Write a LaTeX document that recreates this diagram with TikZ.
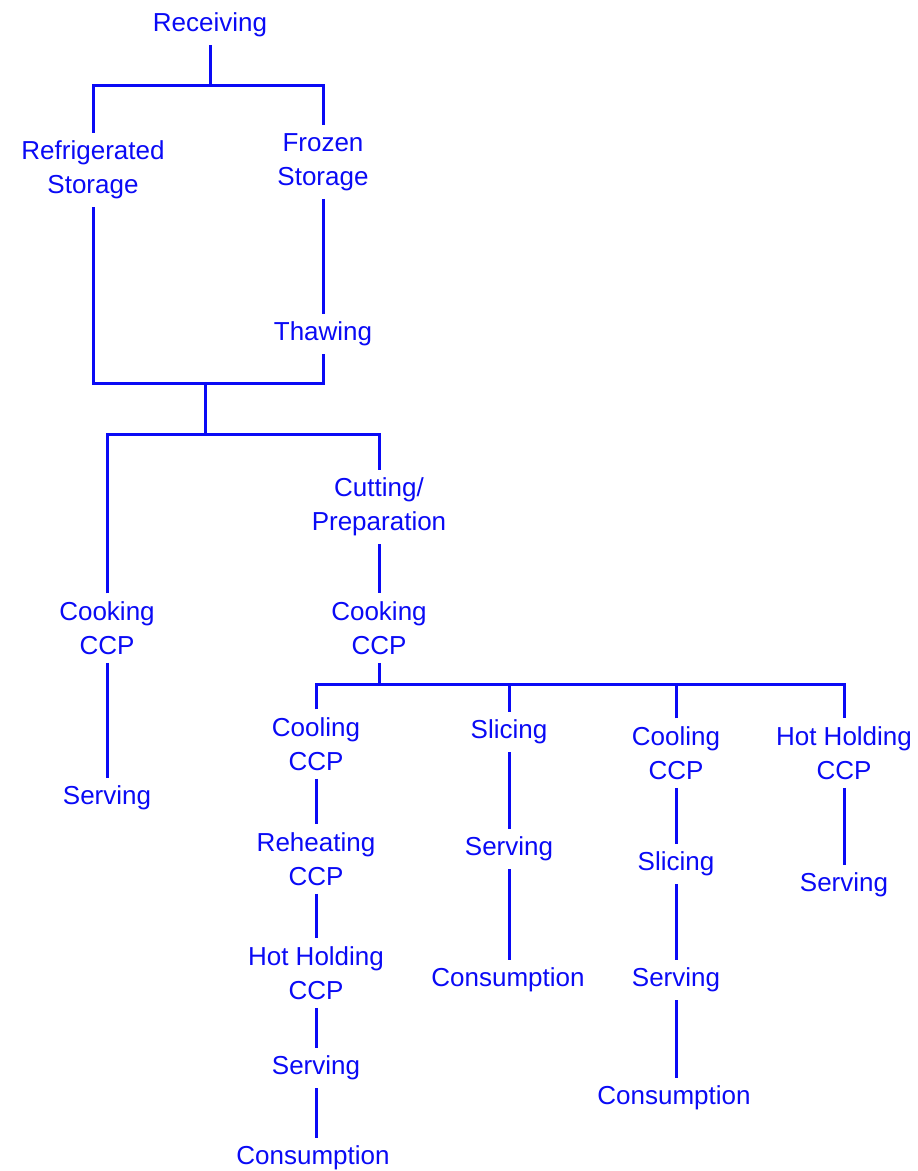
\documentclass[tikz,border=0pt]{standalone}
\usepackage{fontspec}
\setmainfont{Liberation Sans}
\definecolor{flowblue}{RGB}{10,10,245}
\begin{document}
\begin{tikzpicture}[x=1pt,y=-1pt,
  lbl/.style={text=flowblue,font=\fontsize{26}{34}\selectfont,align=center,inner xsep=0pt,inner ysep=8pt},
  conn/.style={draw=flowblue,line width=3pt}]
\path[use as bounding box] (0,0) rectangle (918,1171);
% nodes
\node[lbl] (rec) at (210,25) {Receiving};
\node[lbl] (refr) at (93,170) {Refrigerated\\Storage};
\node[lbl] (froz) at (323,162) {Frozen\\Storage};
\node[lbl] (thaw) at (323,334) {Thawing};
\node[lbl] (cut) at (379,507) {Cutting/\\Preparation};
\node[lbl] (cookL) at (107,628) {Cooking\\CCP};
\node[lbl] (cookR) at (379,628) {Cooking\\CCP};
\node[lbl] (servL) at (107,798) {Serving};
\node[lbl] (cool1) at (316,744) {Cooling\\CCP};
\node[lbl] (reh) at (316,859) {Reheating\\CCP};
\node[lbl] (hh1) at (316,973) {Hot Holding\\CCP};
\node[lbl] (serv1) at (316,1068) {Serving};
\node[lbl] (cons1) at (313,1158) {Consumption};
\node[lbl] (slc2) at (509,732) {Slicing};
\node[lbl] (serv2) at (509,849) {Serving};
\node[lbl] (cons2) at (508,980) {Consumption};
\node[lbl] (cool3) at (676,753) {Cooling\\CCP};
\node[lbl] (slc3) at (676,864) {Slicing};
\node[lbl] (serv3) at (676,980) {Serving};
\node[lbl] (cons3) at (674,1098) {Consumption};
\node[lbl] (hh4) at (844,753) {Hot Holding\\CCP};
\node[lbl] (serv4) at (844,885) {Serving};
% junctions
\coordinate (j1) at (210,85);
\coordinate (j2) at (205,383);
\coordinate (j3) at (205,434);
\coordinate (j4) at (379,684);
% connectors
\draw[conn] (rec.south) -- (j1);
\draw[conn] (refr.north) |- (j1) -| (froz.north);
\draw[conn] (froz.south) -- (thaw.north);
\draw[conn] (refr.south) |- (j2) -| (thaw.south);
\draw[conn] (j2) -- (j3);
\draw[conn] (cookL.north) |- (j3) -| (cut.north);
\draw[conn] (cut.south) -- (cookR.north);
\draw[conn] (cookL.south) -- (servL.north);
\draw[conn] (cookR.south) -- (j4);
\draw[conn] (cool1.north) |- (j4) -| (hh4.north);
\draw[conn] (slc2.north) -- (slc2.north |- j4);
\draw[conn] (cool3.north) -- (cool3.north |- j4);
\draw[conn] (cool1.south) -- (cool1.south |- reh.north);
\draw[conn] (reh.south) -- (hh1.north);
\draw[conn] (hh1.south) -- (serv1.north);
\draw[conn] (serv1.south) -- (serv1.south |- cons1.north);
\draw[conn] (slc2.south) -- (serv2.north);
\draw[conn] (serv2.south) -- (serv2.south |- cons2.north);
\draw[conn] (cool3.south) -- (slc3.north);
\draw[conn] (slc3.south) -- (serv3.north);
\draw[conn] (serv3.south) -- (serv3.south |- cons3.north);
\draw[conn] (hh4.south) -- (serv4.north);
\end{tikzpicture}
\end{document}
